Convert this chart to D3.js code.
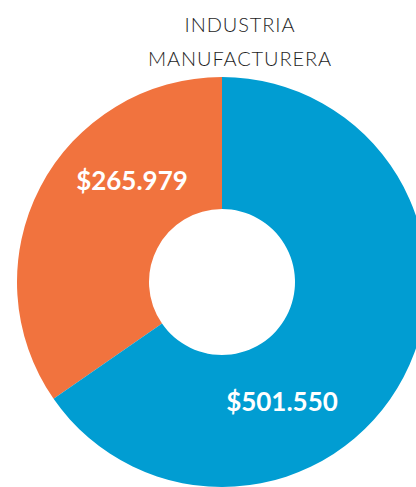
<!DOCTYPE html>
<html>
<head>
<meta charset="utf-8">
<script src="https://cdn.jsdelivr.net/npm/d3@7"></script>
<style>
  body { margin: 0; background: #fff; }
</style>
</head>
<body>
<div id="chart"></div>
<script>
// data
const sectors = ["Otros", "Principal"];
const values = [265979, 501550];
const labels = ["$265.979", "$501.550"];
const titleLines = ["INDUSTRIA", "MANUFACTURERA"];

const width = 416, height = 487;
const cx = 222, cy = 282;
const outerR = 205, innerR = 73;

const color = d3.scaleOrdinal()
  .domain(sectors)
  .range(["#f1733e", "#019dd2"]);

const svg = d3.select("#chart")
  .append("svg")
  .attr("width", width)
  .attr("height", height);

// title
svg.append("text")
  .attr("x", 240)
  .attr("y", 32)
  .attr("text-anchor", "middle")
  .style("font-family", "Lato")
  .style("font-weight", 300)
  .style("font-size", "20px")
  .style("letter-spacing", "0.9px")
  .attr("fill", "#1e1e1e")
  .selectAll("tspan")
  .data(titleLines)
  .join("tspan")
    .attr("x", 240)
    .attr("dy", (d, i) => i ? 34 : 0)
    .text(d => d);

// orange slice runs counter-clockwise from 12 o'clock, blue clockwise
const pie = d3.pie()
  .sort(null)
  .startAngle(-2 * Math.PI * values[0] / d3.sum(values))
  .endAngle(2 * Math.PI - 2 * Math.PI * values[0] / d3.sum(values));

const arc = d3.arc()
  .innerRadius(innerR)
  .outerRadius(outerR);

const g = svg.append("g")
  .attr("transform", `translate(${cx},${cy})`);

g.selectAll("path")
  .data(pie(values))
  .join("path")
    .attr("d", arc)
    .attr("fill", (d, i) => color(sectors[i]));

// value labels
const labelPos = [[-90, -92], [60, 129]];
g.selectAll("text.val")
  .data(labels)
  .join("text")
    .attr("class", "val")
    .attr("x", (d, i) => labelPos[i][0])
    .attr("y", (d, i) => labelPos[i][1])
    .attr("text-anchor", "middle")
    .style("font-family", "Lato")
    .style("font-weight", 700)
    .style("font-size", "26px")
    .attr("fill", "#fff")
    .text(d => d);
</script>
</body>
</html>
